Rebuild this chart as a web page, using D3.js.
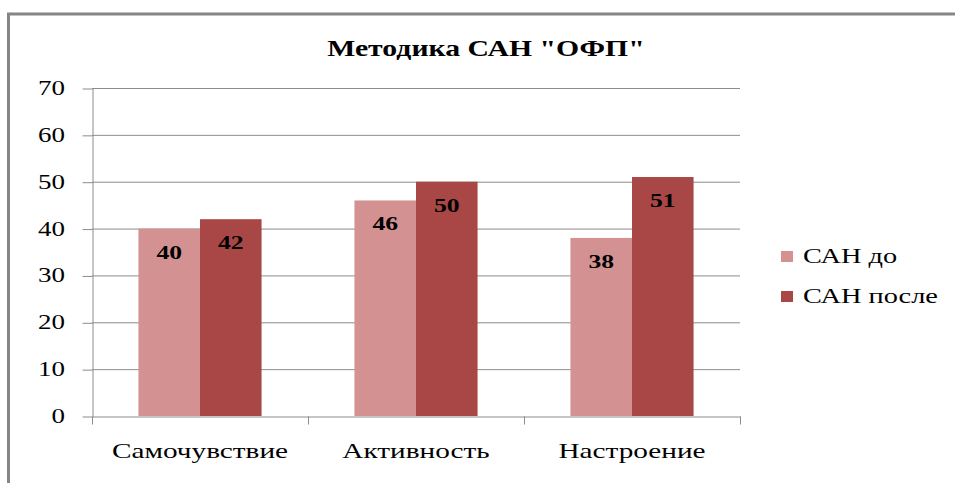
<!DOCTYPE html>
<html>
<head>
<meta charset="utf-8">
<script src="https://cdn.jsdelivr.net/npm/d3@7"></script>
<style>
  body { margin: 0; background: #fff; }
</style>
</head>
<body>
<div id="chart"></div>
<script>
// data
var categories = ["Самочувствие", "Активность", "Настроение"];
var seriesNames = ["САН до", "САН после"];
var sanBefore = [40, 46, 38];
var sanAfter = [42, 50, 51];
var yTicks = [0, 10, 20, 30, 40, 50, 60, 70];
var colors = ["#d39291", "#a84745"];

var W = 955, H = 483;
var margin = {top: 88, left: 92, right: 215, bottom: 67};
var width = W - margin.left - margin.right,
    height = H - margin.top - margin.bottom;
var serif = "Liberation Serif";

var svg = d3.select("#chart").append("svg")
    .attr("width", W)
    .attr("height", H);

svg.append("rect").attr("width", W).attr("height", H).attr("fill", "#fff");

// outer chart border (cut off right and bottom)
svg.append("rect")
    .attr("x", 8.5).attr("y", 14)
    .attr("width", 1000).attr("height", 1000)
    .attr("fill", "none")
    .attr("stroke", "#868686")
    .attr("stroke-width", 3);

var g = svg.append("g")
    .attr("transform", "translate(" + margin.left + "," + margin.top + ")");

var x0 = d3.scaleBand().domain(categories).range([0, width]);
var bw = x0.bandwidth();
var x1 = d3.scaleBand().domain(seriesNames).range([bw * 0.215, bw * 0.785]);
var y = d3.scaleLinear().domain([0, 70]).range([height, 0]);

// text in the picture is stretched horizontally
function stretched(sel, x, yy, str, size, weight, anchor, sx) {
  return sel.append("text")
      .attr("transform", "translate(" + x + "," + yy + ") scale(" + (sx || 1.35) + ",1)")
      .attr("text-anchor", anchor || "middle")
      .attr("font-family", serif)
      .attr("font-size", size)
      .attr("font-weight", weight || "normal")
      .attr("fill", "#000")
      .text(str);
}

// gridlines
g.selectAll(".grid")
    .data(yTicks.filter(function(d) { return d > 0; }))
  .enter().append("line")
    .attr("x1", 0).attr("x2", width)
    .attr("y1", function(d) { return y(d) + 0.5; })
    .attr("y2", function(d) { return y(d) + 0.5; })
    .attr("stroke", "#8c8c8c").attr("stroke-width", 1);

// y axis
var yAxis = g.append("g")
    .attr("transform", "translate(0.5,0.5)")
    .call(d3.axisLeft(y).tickValues(yTicks).tickSize(10).tickSizeOuter(0));
yAxis.select(".domain").attr("stroke", "#8c8c8c");
yAxis.selectAll("line").attr("stroke", "#8c8c8c");
yAxis.selectAll("text").remove();
yTicks.forEach(function(t) {
  stretched(g, -27, y(t) + 7, t, 20, "normal", "end");
});

// x axis
var xAxis = g.append("g")
    .attr("transform", "translate(0.5," + (height + 0.5) + ")")
    .call(d3.axisBottom(x0).tickSize(0).tickSizeOuter(0));
xAxis.select(".domain").attr("stroke", "#8c8c8c");
xAxis.selectAll("text").remove();
var bounds = categories.map(function(c) { return x0(c); }).concat([width]);
xAxis.selectAll(".sep")
    .data(bounds)
  .enter().append("line")
    .attr("x1", function(d) { return d; }).attr("x2", function(d) { return d; })
    .attr("y1", 0).attr("y2", 8)
    .attr("stroke", "#8c8c8c");
categories.forEach(function(c) {
  stretched(g, x0(c) + bw / 2, height + 42, c, 22, "normal", "middle", 1.33);
});

// bars
var series = [sanBefore, sanAfter];
series.forEach(function(vals, si) {
  var grp = g.append("g");
  grp.selectAll("rect")
      .data(vals)
    .enter().append("rect")
      .attr("x", function(d, i) { return x0(categories[i]) + x1(seriesNames[si]); })
      .attr("y", function(d) { return y(d); })
      .attr("width", x1.bandwidth())
      .attr("height", function(d) { return height - y(d); })
      .attr("fill", colors[si]);
  vals.forEach(function(v, i) {
    stretched(g, x0(categories[i]) + x1(seriesNames[si]) + x1.bandwidth() / 2,
      y(v) + 30, v, 19, "bold");
  });
});

// title
stretched(svg, 486, 56, "Методика САН \"ОФП\"", 24, "bold", "middle", 1.24);

// legend
seriesNames.forEach(function(s, i) {
  var ly = 251 + i * 40;
  svg.append("rect")
      .attr("x", 781).attr("y", ly)
      .attr("width", 12).attr("height", 11)
      .attr("fill", colors[i]);
  stretched(svg, 803, ly + 12, s, 21, "normal", "start");
});
</script>
</body>
</html>
